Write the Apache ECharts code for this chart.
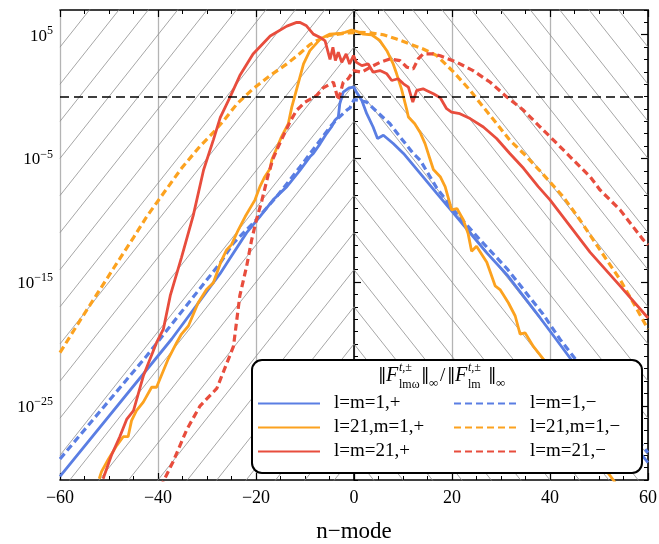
<!DOCTYPE html>
<html><head><meta charset="utf-8">
<script src="https://cdn.jsdelivr.net/npm/echarts@6/dist/echarts.min.js"></script>
<style>html,body{margin:0;padding:0;background:#fff}#c{width:659px;height:544px}</style>
</head><body><div id="c"></div>
<script>
// ---- data: [n, log10(value)] ----
const lm1Plus = [[-60,-30.7],[-37.2,-19.6],[-27.3,-14.3],[-25.5,-13.2],[-21.9,-11.0],[-19.2,-9.7],[-16.5,-8.35],[-13.7,-7.28],[-11,-5.94],[-9,-4.87],[-8.3,-4.6],[-6.9,-3.8],[-5.6,-2.99],[-4.6,-2.46],[-3.9,-1.92],[-3.2,-1.65],[-2.9,-0.58],[-2.2,0.36],[-1,0.7],[0,0.77],[0.5,0.36],[1.6,-0.31],[2.6,-1.38],[3.9,-2.46],[4.8,-3.39],[6,-3.13],[8,-3.79],[10.1,-4.6],[13.5,-6.21],[16.9,-7.82],[20.3,-9.42],[23.7,-11.03],[27.1,-12.64],[31.2,-14.4],[38,-17.9],[41.4,-19.7],[58,-28.6],[60,-29.6]];
const lm1Minus = [[-60,-29.3],[-42.3,-20.96],[-27.3,-13.45],[-24.6,-11.84],[-20.5,-10.2],[-15.8,-8.1],[-11,-5.68],[-6.9,-3.53],[-4.9,-2.46],[-3.5,-1.85],[-1.5,-1.11],[-0.8,-0.9],[0,-0.25],[1,-0.3],[2.6,-0.45],[4.6,-1.2],[7.3,-2.18],[9.4,-3.26],[12.1,-4.6],[13.5,-5.14],[16.9,-7.4],[20.3,-9.16],[25.7,-11.57],[31.2,-13.9],[38.6,-17.6],[42,-19.6],[58,-27.8],[60,-28.8]];
const l21m1Plus = [[-52,-30.9],[-51.5,-30.3],[-50.1,-29.3],[-48.4,-28.2],[-47.1,-27.5],[-46.1,-27.5],[-45.4,-26.2],[-44.4,-25.4],[-43,-24.7],[-41.3,-23.5],[-40.3,-23.5],[-37.9,-21.2],[-36.2,-19.9],[-35.2,-19.2],[-33.8,-18.55],[-31.8,-16.67],[-30.1,-15.6],[-28.7,-15.06],[-27.1,-13.3],[-26,-12.4],[-25,-11.97],[-23.6,-10.77],[-22.2,-9.7],[-21.2,-9.02],[-20.2,-8.35],[-19.2,-7.28],[-18.2,-6.48],[-17.1,-5.81],[-16.8,-5.14],[-15.8,-4.2],[-14.8,-3.26],[-13.4,-2.18],[-12.7,-0.85],[-11.7,0.6],[-10.3,2.64],[-9,3.71],[-6.9,4.65],[-4.9,5.05],[-2.9,5.1],[-1.8,5.19],[-0.5,5.38],[0.5,5.27],[1.9,5.05],[3.6,5.0],[5.3,4.52],[6.7,3.71],[8,2.64],[8.7,1.84],[9.7,0.6],[10.8,-1.11],[11.1,-1.65],[12.4,-2.2],[13.5,-2.9],[14.5,-3.8],[15.3,-4.8],[16.2,-5.9],[17.6,-6.48],[18.6,-7.28],[19.6,-8.7],[19.9,-9.16],[21,-9.05],[22.3,-9.96],[23.3,-11.1],[24,-12.5],[25,-12.1],[27.1,-13.4],[28.8,-15.3],[29.8,-15.6],[31.5,-16.67],[32.9,-17.74],[33.9,-19.2],[34.9,-19.1],[36.6,-20.2],[38.6,-21.2],[51.6,-30.3],[53.3,-31.2]];
const l21m1Minus = [[-60,-20.7],[-55.9,-18.1],[-52.5,-16.0],[-49.1,-13.9],[-45,-11.4],[-42.3,-9.7],[-38.3,-7.5],[-35.2,-5.8],[-31.4,-4.0],[-28.7,-2.9],[-26.7,-2.0],[-23.9,-0.6],[-20.6,0.63],[-17.1,1.7],[-13.7,2.64],[-11,3.5],[-9,4.2],[-7.6,4.52],[-5,4.95],[-2,5.12],[1,5.2],[3.3,5.15],[6,5.0],[8.7,4.65],[11.4,4.25],[14.1,3.85],[16.9,3.31],[20.3,2.0],[23.7,0.5],[26.4,-0.85],[29.1,-2.18],[31.8,-3.53],[34.6,-4.6],[37.8,-5.94],[42.7,-8.1],[46.1,-9.96],[50.2,-12.4],[54.3,-14.8],[57,-16.67],[60,-18.8]];
const lm21Plus = [[-51.2,-30.9],[-49.5,-29.0],[-47.8,-27.5],[-46.4,-26.1],[-45,-25.4],[-43,-22.6],[-40.3,-19.9],[-38.9,-18.8],[-37.5,-16.1],[-35.2,-13.0],[-32.8,-9.6],[-30.7,-5.94],[-28.7,-3.5],[-27.3,-1.7],[-25.3,-0.05],[-23.3,1.7],[-20.6,3.45],[-17.1,4.9],[-13.7,5.7],[-11.7,6.0],[-11,5.99],[-9.7,5.72],[-8.3,5.05],[-6.9,4.78],[-5.9,4.5],[-4.9,3.0],[-4.3,3.98],[-3.8,2.91],[-3.2,3.58],[-2.5,2.77],[-1.6,3.45],[-0.9,2.64],[-0.1,3.31],[0.5,2.77],[1.6,2.5],[2.9,2.64],[3.9,1.97],[5.3,2.1],[6.7,1.84],[7.7,1.3],[9,1.44],[10.1,1.03],[11.1,0.76],[12,-0.45],[12.8,0.5],[14.1,0.63],[14.8,0.5],[16.2,0.23],[17.6,-0.1],[18.9,-0.98],[19.9,-1.25],[21.6,-1.38],[23.7,-1.78],[26.4,-2.46],[29.1,-3.39],[31.8,-4.6],[34.6,-5.8],[37.6,-7.28],[40,-8.35],[48.2,-12.6],[54.3,-15.3],[60,-17.9]];
const lm21Minus = [[-39.5,-31.6],[-36.9,-29.5],[-34.1,-26.9],[-31.4,-25.0],[-28,-23.6],[-24.6,-20.2],[-23.3,-16.1],[-21.9,-13.7],[-20.9,-11.6],[-20,-10.1],[-18.8,-8.4],[-17.5,-6.3],[-16.5,-5.0],[-15.4,-4.0],[-14.1,-2.9],[-12.9,-1.92],[-11.7,-1.11],[-10,-0.45],[-7.6,0.1],[-6.3,0.7],[-4.2,1.16],[-3.2,-0.31],[-2.2,1.16],[-1.2,1.44],[-0.1,2.1],[1.6,1.97],[3.3,2.37],[5.3,2.77],[7.3,3.04],[9.4,2.91],[10.8,2.37],[12.1,2.24],[13.1,3.04],[14.1,3.45],[16.2,3.45],[17.6,3.3],[21,2.77],[24.3,2.1],[27.8,1.16],[31.2,-0.04],[34.6,-1.11],[38,-2.46],[41.4,-3.79],[44.8,-5.14],[48.2,-6.48],[50.2,-7.55],[54.3,-9.16],[59,-11.57],[60,-12.0]];

const seriesNames = ['l=m=1,+','l=m=1,\u2212','l=21,m=1,+','l=21,m=1,\u2212','l=m=21,+','l=m=21,\u2212'];
const xTicks = [-60,-40,-20,0,20,40,60];
const yMajorExp = [-25,-15,-5,5];
const yRangeExp = [-31, 7];

const BLUE='#5a7ee3', ORANGE='#fca21f', RED='#e84d3d';
const FONT='Liberation Serif, DejaVu Serif, serif';

function toData(arr){ return arr.map(p => [p[0], Math.pow(10, p[1])]); }
const decades = []; for (let e = yRangeExp[0]; e <= yRangeExp[1]; e++) decades.push(Math.pow(10, e));
const majors = yMajorExp.map(e => Math.pow(10, e));

// hatch (decorative chevron lines)
const hatchSlope = 0.5;
const hatch = [];
for (let j = -12; j <= 13; j++) {
  const c = 1 + 3 * j;
  hatch.push({
    type:'line', silent:true, symbol:'none', z:1, animation:false,
    lineStyle:{color:'#8f8f8f', width:0.8},
    data:[[-60, Math.pow(10, c - 60*hatchSlope)], [0, Math.pow(10, c)], [60, Math.pow(10, c - 60*hatchSlope)]]
  });
}

function dataSeries(name, arr, color, dashed){
  return {
    name, type:'line', data: toData(arr), symbol:'none', showSymbol:false, z:3, clip:true,
    lineStyle:{color, width: dashed ? 3.2 : 2.8, type: dashed ? [7,4] : 'solid'},
    itemStyle:{color}
  };
}

const supFmt = v => {
  const e = Math.round(Math.log10(v));
  return '{b|10}{s|' + (e < 0 ? '\u2212' + (-e) : e) + '}';
};

const yBase = {
  type:'log', logBase:10, min: Math.pow(10, yRangeExp[0]), max: Math.pow(10, yRangeExp[1]),
  splitLine:{show:false}, axisLine:{show:true, lineStyle:{color:'#000', width:1.6}}
};

const chart = echarts.init(document.getElementById('c'), null, {renderer:'canvas'});
const option = {
  animation:false,
  backgroundColor:'#fff',
  grid:{left:60, right:11, top:10, bottom:64, outerBoundsMode:'none'},
  xAxis:[
    {type:'value', min:-60, max:60, interval:20, position:'bottom',
     name:'n\u2212mode', nameLocation:'middle', nameGap:40,
     nameTextStyle:{fontFamily:FONT, fontSize:23, color:'#000'},
     axisLine:{show:true, onZero:false, lineStyle:{color:'#000', width:1.6}},
     axisTick:{show:true, inside:true, length:7, lineStyle:{color:'#000', width:1.2}},
     minorTick:{show:true, splitNumber:4, length:4, lineStyle:{color:'#000', width:1}},
     splitLine:{show:true, lineStyle:{color:'#b4b4b4', width:1.3}},
     axisLabel:{margin:9, fontFamily:FONT, fontSize:18, color:'#000',
       formatter: v => v < 0 ? '\u2212' + (-v) : String(v)}},
    {type:'value', min:-60, max:60, interval:20, position:'top',
     axisLine:{show:true, onZero:false, lineStyle:{color:'#000', width:1.6}},
     axisTick:{show:true, inside:true, length:7, lineStyle:{color:'#000', width:1.2}},
     minorTick:{show:true, splitNumber:4, length:4, lineStyle:{color:'#000', width:1}},
     splitLine:{show:false}, axisLabel:{show:false}}
  ],
  yAxis:[
    Object.assign({}, yBase, {position:'left',
      axisTick:{show:true, inside:true, length:7, customValues: majors, lineStyle:{color:'#000', width:1.2}},
      axisLabel:{show:true, customValues: majors, margin:7, formatter: supFmt,
        rich:{b:{fontFamily:FONT, fontSize:17, color:'#000', lineHeight:20, verticalAlign:'bottom'},
              s:{fontFamily:FONT, fontSize:12, color:'#000', lineHeight:12, verticalAlign:'top'}}}}),
    Object.assign({}, yBase, {position:'left', axisLine:{show:false},
      axisTick:{show:true, inside:true, length:4, customValues: decades, lineStyle:{color:'#000', width:1}},
      axisLabel:{show:false}}),
    Object.assign({}, yBase, {position:'right',
      axisTick:{show:true, inside:true, length:7, customValues: majors, lineStyle:{color:'#000', width:1.2}},
      axisLabel:{show:false}}),
    Object.assign({}, yBase, {position:'right', axisLine:{show:false},
      axisTick:{show:true, inside:true, length:4, customValues: decades, lineStyle:{color:'#000', width:1}},
      axisLabel:{show:false}})
  ],
  legend:[
    {data:[seriesNames[0], seriesNames[2], seriesNames[4]], orient:'vertical', left:257, top:394,
     itemWidth:62, itemHeight:12, itemGap:5, padding:0, z:20, selectedMode:false,
     itemStyle:{opacity:0},
     textStyle:{fontFamily:FONT, fontSize:19, color:'#000', padding:[0,0,0,9]}},
    {data:[seriesNames[1], seriesNames[3], seriesNames[5]], orient:'vertical', left:453, top:394,
     itemWidth:62, itemHeight:12, itemGap:5, padding:0, z:20, selectedMode:false,
     itemStyle:{opacity:0},
     textStyle:{fontFamily:FONT, fontSize:19, color:'#000', padding:[0,0,0,9]}}
  ],
  graphic:{elements:[
    {type:'rect', z:15, zlevel:0, shape:{x:252, y:360, width:390, height:113, r:10},
     style:{fill:'#fff', stroke:'#000', lineWidth:2}},
    {type:'group', z:16, children:[
      {type:'text', z:16, x:378, y:376, style:{text:'\u2016', fontFamily:'DejaVu Serif', fontSize:17, fill:'#000', verticalAlign:'middle'}},
      {type:'text', z:16, x:386, y:376, style:{text:'F', fontFamily:FONT, fontStyle:'italic', fontSize:20, fill:'#000', verticalAlign:'middle'}},
      {type:'text', z:16, x:399, y:368, style:{text:'t,\u00b1', fontFamily:FONT, fontStyle:'italic', fontSize:12, fill:'#000', verticalAlign:'middle'}},
      {type:'text', z:16, x:399, y:385, style:{text:'lm\u03c9', fontFamily:FONT, fontSize:12, fill:'#000', verticalAlign:'middle'}},
      {type:'text', z:16, x:421, y:376, style:{text:'\u2016', fontFamily:'DejaVu Serif', fontSize:17, fill:'#000', verticalAlign:'middle'}},
      {type:'text', z:16, x:429, y:384, style:{text:'\u221e', fontFamily:FONT, fontSize:13, fill:'#000', verticalAlign:'middle'}},
      {type:'text', z:16, x:440, y:376, style:{text:'/', fontFamily:FONT, fontSize:19, fill:'#000', verticalAlign:'middle'}},
      {type:'text', z:16, x:447, y:376, style:{text:'\u2016', fontFamily:'DejaVu Serif', fontSize:17, fill:'#000', verticalAlign:'middle'}},
      {type:'text', z:16, x:455, y:376, style:{text:'F', fontFamily:FONT, fontStyle:'italic', fontSize:20, fill:'#000', verticalAlign:'middle'}},
      {type:'text', z:16, x:468, y:368, style:{text:'t,\u00b1', fontFamily:FONT, fontStyle:'italic', fontSize:12, fill:'#000', verticalAlign:'middle'}},
      {type:'text', z:16, x:468, y:385, style:{text:'lm', fontFamily:FONT, fontSize:12, fill:'#000', verticalAlign:'middle'}},
      {type:'text', z:16, x:488, y:376, style:{text:'\u2016', fontFamily:'DejaVu Serif', fontSize:17, fill:'#000', verticalAlign:'middle'}},
      {type:'text', z:16, x:496, y:384, style:{text:'\u221e', fontFamily:FONT, fontSize:13, fill:'#000', verticalAlign:'middle'}}
    ]}
  ]},
  series: hatch.concat([
    {type:'line', silent:true, symbol:'none', z:2, data:[], 
     markLine:{silent:true, symbol:'none', label:{show:false},
       lineStyle:{color:'#000', width:1.5, type:[9,5]}, data:[{yAxis:1}]}},
    dataSeries(seriesNames[0], lm1Plus, BLUE, false),
    dataSeries(seriesNames[1], lm1Minus, BLUE, true),
    dataSeries(seriesNames[2], l21m1Plus, ORANGE, false),
    dataSeries(seriesNames[3], l21m1Minus, ORANGE, true),
    dataSeries(seriesNames[4], lm21Plus, RED, false),
    dataSeries(seriesNames[5], lm21Minus, RED, true)
  ])
};
chart.setOption(option);
</script></body></html>
